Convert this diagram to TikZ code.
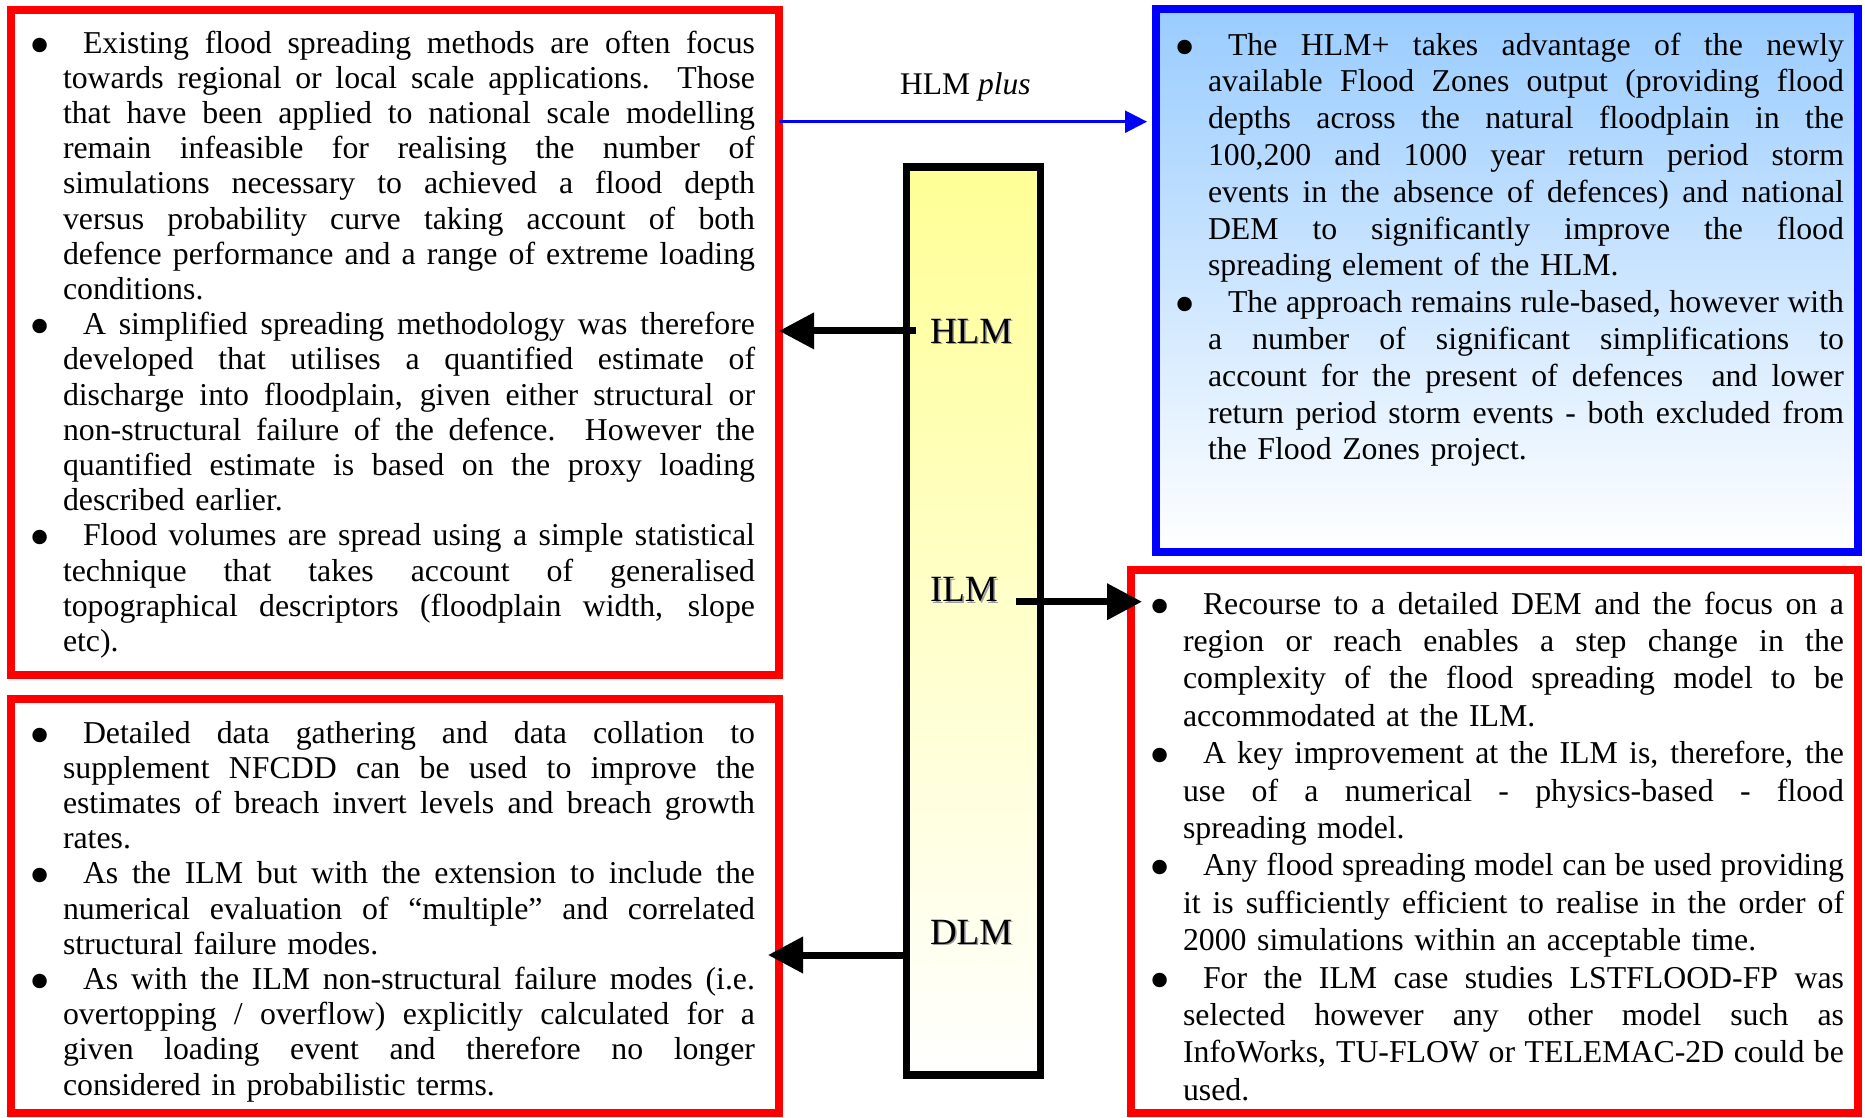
\documentclass[tikz,border=0pt]{standalone}
\usepackage{fontspec}
\usepackage{graphicx}
\setmainfont{Liberation Serif}
\usetikzlibrary{arrows.meta}

\definecolor{skytop}{RGB}{153,204,255}
\definecolor{bartop}{RGB}{255,255,150}
\definecolor{lblgray}{RGB}{160,160,160}

% width of the text column of the current box
\newlength{\colw}
% bullet hanging to the left of the text column
\newcommand{\bul}{\makebox[0pt][r]{\raisebox{-12pt}{\scalebox{1.9}{\textbullet}}\hspace{12pt}}}
% a justified line of a given width: the word spaces share the free room
\newcommand{\jbox}[2]{\leavevmode\hbox to #1{\spaceskip=0.25em plus 1fil\relax\xspaceskip=0.25em plus 1fil\relax #2}}
% first line of an item (bullet + indent), justified
\newcommand{\fl}[1]{\bul\hspace*{20pt}\jbox{\dimexpr\colw-20pt\relax}{#1}\\}
% justified inner line
\newcommand{\jl}[1]{\jbox{\colw}{#1}\\}
% closing line of an item
\newcommand{\el}[1]{#1\\}

\tikzset{
  redbox/.style={draw=red, line width=8pt, inner sep=0pt, outer sep=0pt, anchor=north west},
  bluebox/.style={draw=blue, line width=8pt, inner sep=0pt, outer sep=0pt, anchor=north west,
    top color=skytop, bottom color=white},
  barbox/.style={draw=black, line width=7.5pt, inner sep=0pt, outer sep=0pt, anchor=north west,
    top color=bartop, bottom color=white},
  bodytext/.style={inner sep=0pt, outer sep=0pt, align=left, anchor=north west},
  lbl/.style={inner sep=0pt, outer sep=0pt, anchor=base west, font=\fontsize{37}{40}\selectfont},
  lblshadow/.style={lbl, text=lblgray},
  bigarrow/.style={line width=7pt, -{Triangle[length=35pt,width=35pt]}},
  thinarrow/.style={draw=blue, line width=2.5pt, -{Triangle[length=22pt,width=22pt]}}
}

\begin{document}
\begin{tikzpicture}[x=1pt,y=-1pt]
\useasboundingbox (0,0) rectangle (1865,1117);

% frames
\node[redbox, minimum width=768pt, minimum height=665pt] (tl) at (11,10) {};
\node[redbox, minimum width=768pt, minimum height=414pt] (bl) at (11,699) {};
\node[bluebox, minimum width=702pt, minimum height=543pt] (bx) at (1156,9) {};
\node[redbox, minimum width=727pt, minimum height=543pt] (br) at (1131,570) {};
\node[barbox, minimum width=134pt, minimum height=908pt] (bar) at (906.5,167) {};

% level labels
\node[lblshadow] (hlms) at (931.5,344.5) {HLM};
\node[lbl] (hlm) at (930,343) {HLM};
\node[lblshadow] (ilms) at (931.5,603.2) {ILM};
\node[lbl] (ilm) at (930,601.7) {ILM};
\node[lblshadow] (dlms) at (931.5,945.5) {DLM};
\node[lbl] (dlm) at (930,944) {DLM};

\node[inner sep=0pt, anchor=base west, font=\fontsize{31.5}{34}\selectfont] (plus) at (900,94) {HLM \textit{plus}};

% text of the high level box
\node[bodytext, text width=692pt, font=\fontsize{31.8}{35.2}\selectfont] (tltext) at (63,27) {\setlength{\colw}{692pt}\rule{0pt}{26pt}%
\fl{Existing flood spreading methods are often focus}
\jl{towards regional or local scale applications.~ Those}
\jl{that have been applied to national scale modelling}
\jl{remain infeasible for realising the number of}
\jl{simulations necessary to achieved a flood depth}
\jl{versus probability curve taking account of both}
\jl{defence performance and a range of extreme loading}
\el{conditions.}
\fl{A simplified spreading methodology was therefore}
\jl{developed that utilises a quantified estimate of}
\jl{discharge into floodplain, given either structural or}
\jl{non-structural failure of the defence.~ However the}
\jl{quantified estimate is based on the proxy loading}
\el{described earlier.}
\fl{Flood volumes are spread using a simple statistical}
\jl{technique that takes account of generalised}
\jl{topographical descriptors (floodplain width, slope}
etc).};

% text of the detailed level box
\node[bodytext, text width=692pt, font=\fontsize{31.8}{35.2}\selectfont] (bltext) at (63,717) {\setlength{\colw}{692pt}\rule{0pt}{26pt}%
\fl{Detailed data gathering and data collation to}
\jl{supplement NFCDD can be used to improve the}
\jl{estimates of breach invert levels and breach growth}
\el{rates.}
\fl{As the ILM but with the extension to include the}
\jl{numerical evaluation of “multiple” and correlated}
\el{structural failure modes.}
\fl{As with the ILM non-structural failure modes (i.e.}
\jl{overtopping / overflow) explicitly calculated for a}
\jl{given loading event and therefore no longer}
considered in probabilistic terms.};

% text of the HLM plus box
\node[bodytext, text width=636pt, font=\fontsize{31.8}{36.8}\selectfont] (bxtext) at (1208,29) {\setlength{\colw}{636pt}\rule{0pt}{26pt}%
\fl{The HLM+ takes advantage of the newly}
\jl{available Flood Zones output (providing flood}
\jl{depths across the natural floodplain in the}
\jl{100,200 and 1000 year return period storm}
\jl{events in the absence of defences) and national}
\jl{DEM to significantly improve the flood}
\el{spreading element of the HLM.}
\fl{The approach remains rule-based, however with}
\jl{a number of significant simplifications to}
\jl{account for the present of defences~ and lower}
\jl{return period storm events - both excluded from}
the Flood Zones project.};

% text of the intermediate level box
\node[bodytext, text width=661pt, font=\fontsize{31.8}{37.4}\selectfont] (brtext) at (1183,588) {\setlength{\colw}{661pt}\rule{0pt}{26pt}%
\fl{Recourse to a detailed DEM and the focus on a}
\jl{region or reach enables a step change in the}
\jl{complexity of the flood spreading model to be}
\el{accommodated at the ILM.}
\fl{A key improvement at the ILM is, therefore, the}
\jl{use of a numerical - physics-based - flood}
\el{spreading model.}
\fl{Any flood spreading model can be used providing}
\jl{it is sufficiently efficient to realise in the order of}
\el{2000 simulations within an acceptable time.}
\fl{For the ILM case studies LSTFLOOD-FP was}
\jl{selected however any other model such as}
\jl{InfoWorks, TU-FLOW or TELEMAC-2D could be}
used.};

% connectors
\coordinate (plusrow) at ([yshift=-27.7pt]plus.base);
\coordinate (dlmtap) at ([yshift=-11pt]dlm.base west);
\draw[thinarrow, shorten >=9pt] (plusrow -| tl.east) -- (plusrow -| bx.west);
\draw[bigarrow, shorten <=14pt] (hlm.west) -- (hlm.west -| tl.east);
\draw[bigarrow, shorten <=18pt, shorten >=-11pt] (ilm.base east) -- (ilm.base east -| br.west);
\draw[bigarrow, shorten >=-11pt] (dlmtap -| bar.west) -- (dlmtap -| bl.east);
\end{tikzpicture}
\end{document}
